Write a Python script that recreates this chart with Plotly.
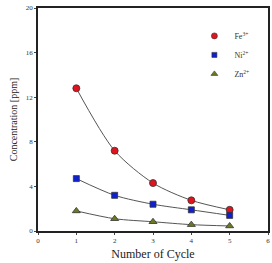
import plotly.graph_objects as go

cycles = [1, 2, 3, 4, 5]
fe = [12.8, 7.2, 4.3, 2.75, 1.9]
ni = [4.7, 3.2, 2.4, 1.9, 1.4]
zn = [1.8, 1.1, 0.83, 0.57, 0.45]

names = ["Fe<sup>3+</sup>", "Ni<sup>2+</sup>", "Zn<sup>2+</sup>"]
series = [fe, ni, zn]
colors = ["#e0141e", "#1020d0", "#6b7a20"]
symbols = ["circle", "square", "triangle-up"]
sizes = [7, 6, 7]

fig = go.Figure()
for n, s, c, sym, sz in zip(names, series, colors, symbols, sizes):
    fig.add_trace(go.Scatter(
        x=cycles, y=s, name=n, mode="lines+markers", showlegend=False,
        line=dict(color="#555555", width=1, shape="spline", smoothing=0.8),
        marker=dict(color=c, symbol=sym, size=sz, line=dict(color="#333333", width=0.8)),
    ))
for n, c, sym, sz in zip(names, colors, symbols, sizes):
    fig.add_trace(go.Scatter(
        x=[None], y=[None], name=n, mode="markers", showlegend=True,
        marker=dict(color=c, symbol=sym, size=sz - 1, line=dict(color="#333333", width=0.6)),
    ))

font = "Liberation Serif"
fig.update_layout(
    width=272, height=263,
    margin=dict(l=38, r=2, t=8, b=32),
    paper_bgcolor="white", plot_bgcolor="white",
    font=dict(family=font, size=7, color="#333333"),
    showlegend=True,
    legend=dict(x=0.68, y=0.94, xanchor="left", yanchor="top",
                bgcolor="rgba(0,0,0,0)", font=dict(size=8, family=font, color="#333333"),
                itemwidth=30, tracegroupgap=0),
)
fig.update_xaxes(range=[0, 6], tickvals=[0, 1, 2, 3, 4, 5, 6],
                 showline=True, linecolor="#222222", linewidth=1.5, mirror=True,
                 ticks="outside", ticklen=2, tickcolor="#444444",
                 showgrid=False, zeroline=False,
                 title=dict(text="Number of Cycle", font=dict(size=12, family=font, color="#222222"), standoff=5))
fig.update_yaxes(range=[0, 20], tickvals=[0, 4, 8, 12, 16, 20],
                 showline=True, linecolor="#222222", linewidth=1.5, mirror=True,
                 ticks="outside", ticklen=2, tickcolor="#444444",
                 showgrid=False, zeroline=False,
                 title=dict(text="Concentration [ppm]", font=dict(size=10, family=font, color="#222222"), standoff=6))

fig.write_html("out.html")
